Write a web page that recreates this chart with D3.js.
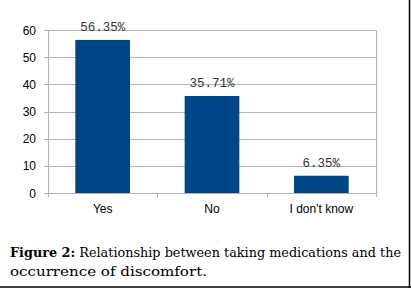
<!DOCTYPE html>
<html><head><meta charset="utf-8">
<script src="https://cdn.jsdelivr.net/npm/d3@7"></script>
<style>
html,body{margin:0;padding:0;background:#fff;}
svg{display:block;}
</style></head>
<body>
<script>
const categories = ["Yes", "No", "I don't know"];
const values = [56.35, 35.71, 6.35];
const valueLabels = ["56.35%", "35.71%", "6.35%"];
const yTicks = [0, 10, 20, 30, 40, 50, 60];
const captionBold = "Figure 2:";
const captionLine1 = " Relationship between taking medications and the";
const captionLine2 = "occurrence of discomfort.";

(function () {
const W = 411, H = 288;
const svg = d3.select("body").append("svg").attr("width", W).attr("height", H);

const pL = 48, pR = 376, pT = 30, pB = 193;
const x = d3.scaleBand().domain(categories).range([pL, pR]).paddingInner(0).paddingOuter(0);
const y = d3.scaleLinear().domain([0, 60]).range([pB, pT]);

svg.append("g").selectAll("line").data(yTicks).join("line")
  .attr("x1", pL - 4).attr("x2", pR)
  .attr("y1", d => Math.round(y(d)) + 0.5).attr("y2", d => Math.round(y(d)) + 0.5)
  .attr("stroke", "#b3b3b3").attr("stroke-width", 1);
svg.append("line").attr("x1", pL + 0.5).attr("x2", pL + 0.5).attr("y1", pT).attr("y2", pB + 4)
  .attr("stroke", "#b3b3b3");
svg.append("line").attr("x1", pR + 0.5).attr("x2", pR + 0.5).attr("y1", pT).attr("y2", pB + 4)
  .attr("stroke", "#b3b3b3");
const bounds = categories.map(c => x(c)).concat([pR]);
svg.append("g").selectAll("line").data(bounds).join("line")
  .attr("x1", d => Math.round(d) + 0.5).attr("x2", d => Math.round(d) + 0.5)
  .attr("y1", pB).attr("y2", pB + 4)
  .attr("stroke", "#b3b3b3");

svg.append("g").selectAll("text").data(yTicks).join("text")
  .attr("x", 36).attr("y", d => y(d) + 4.5)
  .attr("text-anchor", "end")
  .attr("font-family", "Liberation Sans, Arial, sans-serif").attr("font-size", 12)
  .attr("fill", "#000").text(d => d);

const bw = x.bandwidth() * 0.5;
svg.append("g").selectAll("rect").data(values).join("rect")
  .attr("x", (d, i) => x(categories[i]) + (x.bandwidth() - bw) / 2)
  .attr("width", bw)
  .attr("y", d => y(d))
  .attr("height", d => y(0) - y(d))
  .attr("fill", "#004586");

svg.append("g").selectAll("text").data(values).join("text")
  .attr("x", (d, i) => x(categories[i]) + x.bandwidth() / 2)
  .attr("y", d => y(d) - 9)
  .attr("text-anchor", "middle")
  .attr("font-family", "Liberation Mono, DejaVu Sans Mono, monospace").attr("font-size", 12.5)
  .attr("fill", "#333").text((d, i) => valueLabels[i]);

svg.append("g").selectAll("text").data(categories).join("text")
  .attr("x", d => x(d) + x.bandwidth() / 2)
  .attr("y", 213)
  .attr("text-anchor", "middle")
  .attr("font-family", "Liberation Sans, Arial, sans-serif").attr("font-size", 12)
  .attr("fill", "#000").text(d => d);

svg.append("line").attr("x1", 409.5).attr("x2", 409.5).attr("y1", 0).attr("y2", 288)
  .attr("stroke", "#000").attr("stroke-width", 1.5);
svg.append("line").attr("x1", 0).attr("x2", 411).attr("y1", 287).attr("y2", 287)
  .attr("stroke", "#000").attr("stroke-width", 1.5);

const cap = svg.append("text").attr("x", 10).attr("y", 257)
  .attr("font-family", "DejaVu Serif, serif").attr("font-size", 12.5).attr("fill", "#000")
  .attr("textLength", 391).attr("lengthAdjust", "spacingAndGlyphs");
cap.append("tspan").attr("font-weight", "bold").text(captionBold);
cap.append("tspan").text(captionLine1);
svg.append("text").attr("x", 10).attr("y", 276)
  .attr("font-family", "DejaVu Serif, serif").attr("font-size", 12.5).attr("fill", "#000")
  .attr("textLength", 197).attr("lengthAdjust", "spacingAndGlyphs")
  .text(captionLine2);
})();
</script>
</body></html>
